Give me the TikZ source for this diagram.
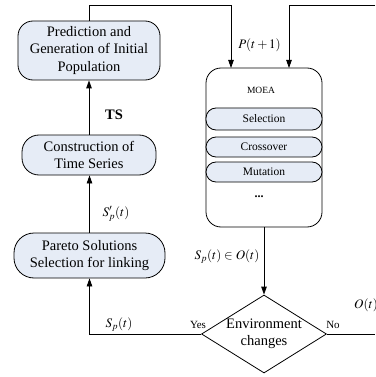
\documentclass[tikz,border=0pt]{standalone}
\usepackage{mathptmx}
\usepackage{fontspec}
\setmainfont{Liberation Serif}
\usetikzlibrary{shapes.geometric,arrows.meta,calc}
\definecolor{boxfill}{RGB}{230,236,246}
\begin{document}
\begin{tikzpicture}[x=1pt,y=-1pt,
  line width=0.8pt,
  arr/.style={-{Triangle[length=8pt,width=5.5pt]}},
  pbox/.style={draw,fill=boxfill,align=center,inner sep=0pt,font=\fontsize{14.5}{17.5}\selectfont},
  ibox/.style={draw,fill=boxfill,rounded corners=10pt,minimum width=116pt,inner sep=0pt,font=\fontsize{11.5}{13}\selectfont},
  lab/.style={font=\fontsize{13}{15}\selectfont},
  small/.style={font=\fontsize{11}{13}\selectfont}]
\useasboundingbox (0,0) rectangle (375,377);
% left column
\node[pbox,rounded corners=15pt,minimum width=142pt,minimum height=59pt] (b1) at (89,50.5) {Prediction and\\Generation of Initial\\Population};
\node[pbox,rounded corners=17pt,minimum width=134pt,minimum height=40pt] (b2) at (89,155) {Construction of\\Time Series};
\node[pbox,rounded corners=20pt,minimum width=151pt,minimum height=45pt] (b3) at (89.5,255.5) {Pareto Solutions\\Selection for linking};
% MOEA block
\node[draw,fill=white,rounded corners=15pt,minimum width=116pt,minimum height=159pt,inner sep=0pt] (moea) at (264,147.5) {};
\node[font=\fontsize{9.5}{11}\selectfont] (mtitle) at (261,90) {MOEA};
\node[ibox,minimum height=22pt] (sel) at (264,119) {Selection};
\node[ibox,minimum height=20pt] (cro) at (264,147) {Crossover};
\node[ibox,minimum height=20pt] (mut) at (264,172) {Mutation};
\node[font=\fontsize{12}{13}\selectfont\bfseries] (dots) at (259,197) {...};
% diamond
\node[draw,diamond,fill=white,minimum width=125pt,minimum height=78pt,inner sep=0pt,aspect=1.6,align=center,font=\fontsize{14.5}{17.5}\selectfont] (dia) at (264,334) {Environment\\changes};
% coordinates
\coordinate (inL) at (231,68);
\coordinate (inR) at (289,68);
\coordinate (topR) at (375,5);
\coordinate (right) at (375,334);
% connectors
\draw[arr] (b1.north) |- (231,5) -- (inL);
\draw[arr] (topR) -| (inR);
\draw[arr] (moea.south) -- (dia.north);
\draw (dia.east) -- (right);
\draw[arr] (dia.west) -| (b3.south);
\draw[arr] (b3.north) -- (b2.south -| b3.north);
\draw[arr] (b2.north) -- (b1.south);
% labels
\node[lab] (lp) at (259.5,45) {$P(t+1)$};
\node[lab] (lso) at (227,257) {$S_p(t)\in O(t)$};
\node[lab] (lo) at (366,305) {$O(t)$};
\node[lab] (lsp2) at (116,214) {$S'_p(t)$};
\node[font=\fontsize{14.5}{17}\selectfont\bfseries] (lts) at (114,115) {TS};
\node[lab] (lsp) at (119,325) {$S_p(t)$};
\node[small] (lyes) at (198,325) {Yes};
\node[small] (lno) at (333,325) {No};
\end{tikzpicture}
\end{document}
